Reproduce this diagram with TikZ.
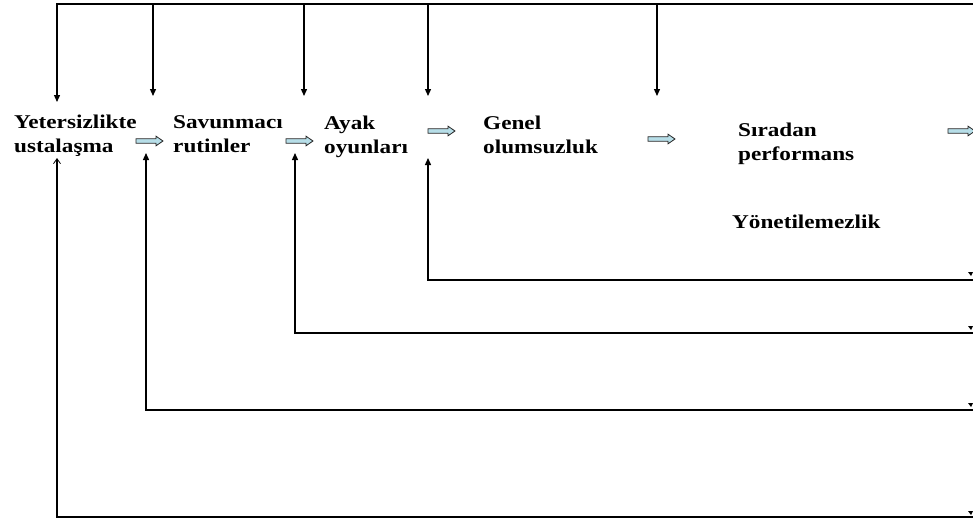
\documentclass[tikz,border=0pt]{standalone}
\usepackage{fontspec}
\usepackage{graphicx}
\setmainfont{Liberation Serif}
\usetikzlibrary{arrows.meta}
\definecolor{arrowfill}{RGB}{183,222,232}
\newcommand{\widetext}[1]{\scalebox{1.19}[1]{\begin{tabular}[t]{@{}l@{}}#1\end{tabular}}}
\tikzset{
  lbl/.style={inner sep=0pt, anchor=base west, font=\fontsize{19.5}{24}\selectfont\bfseries},
  link/.style={line width=1.3pt, draw=black},
  down/.style={link, -{Triangle[width=6pt,length=7pt]}},
  up/.style={link, -{Triangle[width=6pt,length=7pt]}},
  openup/.style={link, -{Straight Barb[width=7pt,length=5pt,line width=0.8pt]}},
  tick/.style={fill=black},
  pics/flowarrow/.style={code={
    \draw[line width=0.8pt, draw=black!85, fill=arrowfill]
      (0,-2.2) -- (20,-2.2) -- (20,-4.8) -- (27,0) -- (20,4.8) -- (20,2.2) -- (0,2.2) -- cycle;}}
}
\begin{document}
\begin{tikzpicture}[x=1pt,y=-1pt]
\fill[white] (0,0) rectangle (973,522);
\useasboundingbox (0,0) rectangle (973,522);

% stages of the chain
\node[lbl] (yet)  at (14,128)  {\widetext{Yetersizlikte\\ustalaşma}};
\node[lbl] (sav)  at (173,128) {\widetext{Savunmacı\\rutinler}};
\node[lbl] (ayak) at (324,129) {\widetext{Ayak\\oyunları}};
\node[lbl] (gen)  at (483,129) {\widetext{Genel\\olumsuzluk}};
\node[lbl] (sir)  at (738,136) {\widetext{Sıradan\\performans}};
\node[lbl] (yon)  at (732,228) {\widetext{Yönetilemezlik}};

% block arrows between stages
\pic at (136,141) {flowarrow};
\pic at (286,141) {flowarrow};
\pic at (428,131) {flowarrow};
\pic at (648,139) {flowarrow};
\pic at (948,131) {flowarrow};

% feed-forward bus along the top
\coordinate (busR) at (973,4);
\coordinate (busL) at (57,4);
\coordinate (inYet) at (57,102);
\coordinate (inSav) at (153,96);
\coordinate (inAyak) at (304,96);
\coordinate (inGen) at (428,96);
\coordinate (inSir) at (657,96);
\draw[down] (busR) -- (busL) -- (inYet);
\draw[down] (inSav |- busR) -- (inSav);
\draw[down] (inAyak |- busR) -- (inAyak);
\draw[down] (inGen |- busR) -- (inGen);
\draw[down] (inSir |- busR) -- (inSir);

% feedback loops from the right
\coordinate (fb1) at (973,280);
\coordinate (fb2) at (973,333);
\coordinate (fb3) at (973,410);
\coordinate (fb4) at (973,517);
\coordinate (upGen) at (428,158);
\coordinate (upAyak) at (295,153);
\coordinate (upSav) at (146,153);
\coordinate (upYet) at (57,158);
\draw[up] (fb1) -- (upGen |- fb1) -- (upGen);
\draw[up] (fb2) -- (upAyak |- fb2) -- (upAyak);
\draw[up] (fb3) -- (upSav |- fb3) -- (upSav);
\draw[openup] (fb4) -- (upYet |- fb4) -- (upYet);

% small marks at the right edge
\foreach \y in {272,326,403,511}
  \fill[tick] (968,\y) -- (973,\y) -- (971,\y+4) -- cycle;
\end{tikzpicture}
\end{document}
